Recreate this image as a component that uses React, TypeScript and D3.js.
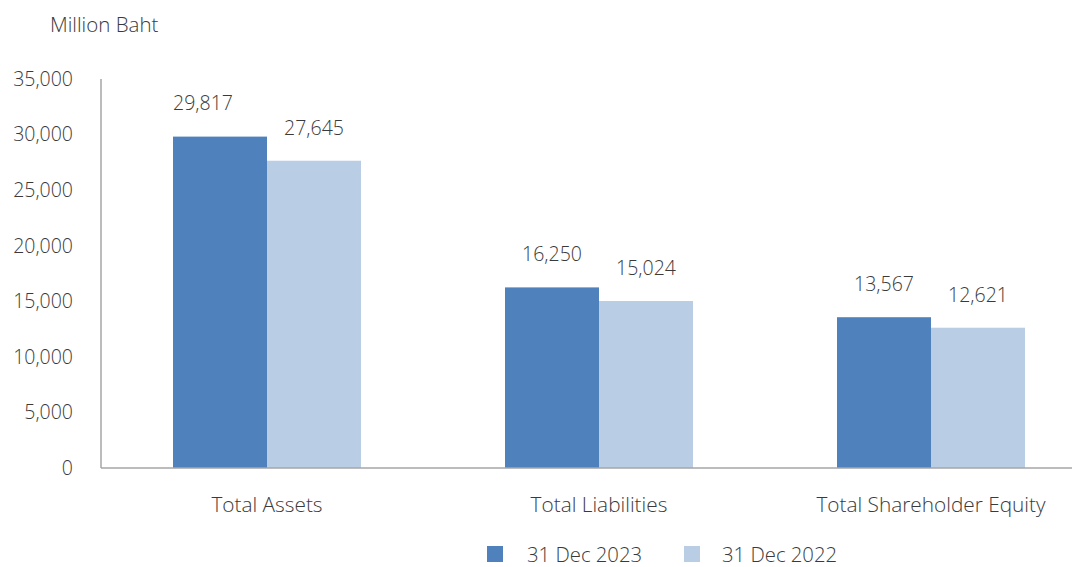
import React from "react";
import * as d3 from "d3";

const categories = ["Total Assets", "Total Liabilities", "Total Shareholder Equity"];
const seriesNames = ["31 Dec 2023", "31 Dec 2022"];
const values2023 = [29817, 16250, 13567];
const values2022 = [27645, 15024, 12621];
const yTicks = [0, 5000, 10000, 15000, 20000, 25000, 30000, 35000];
const colors = ["#4f81bd", "#b9cde5"];

export default function App() {
  const W = 1072, H = 567;
  const x0 = 101, x1 = 1097, yBase = 468, yTop = 79;
  const font = "'Open Sans', sans-serif";
  const fw = 300;
  const textColor = "#3a3a3a";
  const x = d3.scaleBand().domain(categories).range([x0, x1]).paddingInner(0).paddingOuter(0);
  const y = d3.scaleLinear().domain([0, 35000]).range([yBase, yTop]);
  const barW = 94;
  const fmt = d3.format(",");
  const series = [values2023, values2022];
  const labelDx = [[-17, 0, 0], [0, 0, 0]];
  return (
    <svg width={W} height={H} style={{ position: "absolute", left: 0, top: 0, background: "#fff" }}>
      <text x={50} y={25} dy="0.35em" fontFamily={font} fontWeight={fw} fontSize={20.5} fill={textColor}>Million Baht</text>
      {yTicks.map((t) => (
        <text key={t} x={73} y={y(t)} dy="0.35em" textAnchor="end" fontFamily={font} fontWeight={fw} fontSize={19.5} fill={textColor}>{fmt(t)}</text>
      ))}
      {categories.map((c, i) => {
        const cx = (x(c) as number) + x.bandwidth() / 2;
        return (
          <g key={c}>
            {series.map((s, si) => {
              const bx = si === 0 ? cx - barW : cx;
              return (
                <g key={si}>
                  <rect x={bx} y={y(s[i])} width={barW} height={yBase - y(s[i])} fill={colors[si]} />
                  <text x={bx + barW / 2 + labelDx[si][i]} y={y(s[i]) - 33} dy="0.35em" textAnchor="middle" fontFamily={font} fontWeight={fw} fontSize={19.5} fill={textColor}>{fmt(s[i])}</text>
                </g>
              );
            })}
            <text x={cx} y={505} dy="0.35em" textAnchor="middle" fontFamily={font} fontWeight={fw} fontSize={20.8} fill={textColor}>{c}</text>
          </g>
        );
      })}
      <line x1={x0} x2={x0} y1={yTop} y2={yBase} stroke="#a6a6a6" strokeWidth={1.5} />
      <line x1={x0} x2={W} y1={yBase} y2={yBase} stroke="#a6a6a6" strokeWidth={1.5} />
      {seriesNames.map((n, i) => (
        <g key={n}>
          <rect x={487 + i * 197} y={546} width={16} height={16} fill={colors[i]} />
          <text x={527 + i * 195} y={555} dy="0.35em" fontFamily={font} fontWeight={fw} fontSize={20.3} fill={textColor}>{n}</text>
        </g>
      ))}
    </svg>
  );
}
